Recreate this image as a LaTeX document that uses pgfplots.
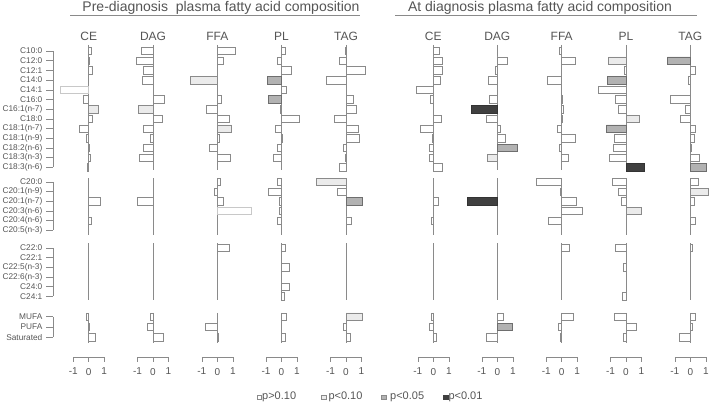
\documentclass[border=0pt]{standalone}
\usepackage{pgfplots}
\pgfplotsset{compat=1.18}
\usepackage{fontspec}
\setmainfont{Liberation Sans}

\definecolor{txt}{HTML}{555555}
\definecolor{edge}{HTML}{8A8A8A}
\definecolor{lite}{HTML}{EBEBEB}
\definecolor{midg}{HTML}{B2B2B2}
\definecolor{dark}{HTML}{404040}
\definecolor{over}{HTML}{C8C8C8}

\pgfplotsset{
  panel/.style={
    x=15.5pt, y=9.7pt,
    xmin=-1, xmax=1, ymin=-31.55, ymax=0.7,
    anchor=south west, clip=false,
    axis y line=none, axis x line*=bottom,
    xtick={-1,0,1}, xticklabels={-1,0,1},
    tick align=outside, major tick length=4.5pt,
    axis line style={edge, line width=0.6pt},
    xtick style={edge, line width=0.6pt},
    xticklabel style={font=\fontsize{10}{12}\selectfont, text=txt, yshift=-3pt},
    every axis plot/.append style={xbar, bar shift=0pt, bar width=7.5pt, line width=0.6pt},
  },
  ns/.style={fill=white, draw=edge},
  p10/.style={fill=lite, draw=edge},
  p05/.style={fill=midg, draw=edge!80!black},
  p01/.style={fill=dark, draw=dark!80!black},
  ovr/.style={fill=white, draw=over},
}

% zero line of a panel, one piece per group of rows
\newcommand{\zl}{\draw[edge, line width=0.6pt]
  (axis cs:0,0.62)--(axis cs:0,-12.27)
  (axis cs:0,-13.1)--(axis cs:0,-19.0)
  (axis cs:0,-19.8)--(axis cs:0,-25.7)
  (axis cs:0,-27.0)--(axis cs:0,-30.1);}

\begin{document}
\begin{tikzpicture}
\path[use as bounding box] (0,0) rectangle (711pt,-404pt);

% titles
\begin{scope}[x=1pt, y=1pt, text=txt]
  \node[font=\fontsize{14}{16}\selectfont] at (221,-7.5) {Pre-diagnosis\ \ plasma fatty acid composition};
  \draw[edge, line width=0.7pt] (70,-15.5) -- (360,-15.5);
  \node[font=\fontsize{14}{16}\selectfont] at (540,-7.5) {At diagnosis plasma fatty acid composition};
  \draw[edge, line width=0.7pt] (395,-15.5) -- (697,-15.5);
  \foreach \x/\t in {88.7/CE,153/DAG,217.3/FFA,281.5/PL,346/TAG,433.3/CE,497.3/DAG,561.7/FFA,626/PL,690.3/TAG}
    \node[font=\fontsize{12}{14}\selectfont] at (\x,-36.5) {\t};
  % row labels and brackets
  \foreach \r/\t in {0/C10:0,1/C12:0,2/C12:1,3/C14:0,4/C14:1,5/C16:0,6/C16:1(n-7),7/C18:0,
      8/C18:1(n-7),9/C18:1(n-9),10/C18:2(n-6),11/C18:3(n-3),12/C18:3(n-6),
      13.5/C20:0,14.5/C20:1(n-9),15.5/C20:1(n-7),16.5/C20:3(n-6),17.5/C20:4(n-6),18.5/C20:5(n-3),
      20.3/C22:0,21.3/C22:1,22.3/C22:5(n-3),23.3/C22:6(n-3),24.3/C24:0,25.3/C24:1,
      27.4/MUFA,28.45/PUFA,29.5/Saturated}{
    \node[anchor=east, inner sep=0pt, font=\fontsize{8.3}{9}\selectfont] at (42.5,{-51-9.7*\r}) {\t};
    \draw[edge, line width=0.6pt] (46,{-51-9.7*\r}) -- (53,{-51-9.7*\r});
  }
  \foreach \a/\b in {0/12,13.5/18.5,20.3/25.3,27.4/29.5}
    \draw[edge, line width=0.6pt] (53,{-51-9.7*\a}) -- (53,{-51-9.7*\b});
  % legend
  \begin{scope}[font=\fontsize{11}{13}\selectfont]
    \draw[edge, fill=white, line width=0.5pt] (256.8,-399.5) rectangle +(4.5,4.5);
    \node[anchor=west, inner sep=0pt] at (262,-397) {p>0.10};
    \draw[edge, fill=lite, line width=0.5pt] (321.3,-399.5) rectangle +(4.5,4.5);
    \node[anchor=west, inner sep=0pt] at (328.3,-397) {p<0.10};
    \draw[edge, fill=midg, line width=0.5pt] (381.3,-399.5) rectangle +(4.5,4.5);
    \node[anchor=west, inner sep=0pt] at (390,-397) {p<0.05};
    \draw[dark, fill=dark, line width=0.5pt] (443.3,-399.5) rectangle +(4.5,4.5);
    \node[anchor=west, inner sep=0pt] at (448.3,-397) {p<0.01};
  \end{scope}
\end{scope}

% ---------- pre-diagnosis ----------
\begin{axis}[panel, at={(73.2pt,-357pt)}]
\zl
\addplot[ns] coordinates {(0.17,0) (0.02,-1) (0.25,-2) (-0.32,-5) (0.2,-7) (-0.58,-8) (-0.15,-9) (0.03,-10) (0.1,-11) (-0.1,-12) (0.73,-15.5) (0.15,-17.5) (-0.13,-27.4) (0.06,-28.45) (0.41,-29.5)};
\addplot[p10] coordinates {(0.65,-6)};
\addplot[ovr] coordinates {(-1.83,-4)};
\end{axis}

\begin{axis}[panel, at={(137.5pt,-357pt)}]
\zl
\addplot[ns] coordinates {(-0.75,0) (-1.1,-1) (-0.65,-2) (-0.7,-3) (0.7,-5) (0.58,-7) (-0.65,-8) (-0.2,-9) (-0.65,-10) (-0.9,-11) (-1.03,-15.5) (-0.15,-27.4) (-0.39,-28.45) (0.69,-29.5)};
\addplot[p10] coordinates {(-0.97,-6)};
\end{axis}

\begin{axis}[panel, at={(201.8pt,-357pt)}]
\zl
\addplot[ns] coordinates {(1.18,0) (0.39,-1) (0.26,-5) (-0.71,-6) (0.77,-7) (0.13,-9) (-0.52,-10) (0.86,-11) (0.17,-13.5) (-0.19,-14.5) (0.37,-15.5) (0.77,-20.3) (-0.75,-28.45) (0.09,-29.5)};
\addplot[p10] coordinates {(-1.72,-3) (0.92,-8)};
\addplot[ovr] coordinates {(2.2,-16.5)};
\end{axis}

\begin{axis}[panel, at={(266pt,-357pt)}]
\zl
\addplot[ns] coordinates {(0.26,0) (-0.24,-1) (0.65,-2) (0.32,-4) (-0.06,-6) (1.16,-7) (-0.43,-8) (0.06,-9) (-0.3,-10) (-0.5,-11) (-0.24,-13.5) (-0.82,-14.5) (-0.15,-15.5) (-0.17,-16.5) (-0.28,-17.5) (0.26,-20.3) (0.49,-22.3) (0.49,-24.3) (0.17,-25.3) (0.32,-27.4) (0.24,-29.5)};
\addplot[p05] coordinates {(-0.9,-3) (-0.82,-5)};
\end{axis}

\begin{axis}[panel, at={(330.5pt,-357pt)}]
\zl
\addplot[ns] coordinates {(-0.05,0) (-0.41,-1) (1.27,-2) (-1.27,-3) (0.47,-5) (0.69,-6) (-0.75,-7) (0.8,-8) (0.88,-9) (-0.17,-10) (-0.03,-11) (-0.43,-12) (-0.54,-14.5) (0.32,-17.5) (-0.17,-28.45) (0.3,-29.5)};
\addplot[p10] coordinates {(-1.9,-13.5) (1.05,-27.4)};
\addplot[p05] coordinates {(1.07,-15.5)};
\end{axis}

% ---------- at diagnosis ----------
\begin{axis}[panel, at={(417.8pt,-357pt)}]
\zl
\addplot[ns] coordinates {(0.41,0) (0.6,-1) (0.6,-2) (0.43,-3) (-1.1,-4) (-0.19,-5) (0.49,-7) (-0.84,-8) (-0.09,-9) (-0.26,-10) (-0.26,-11) (0.58,-12) (0.34,-15.5) (-0.11,-17.5) (-0.13,-27.4) (-0.24,-28.45) (0.21,-29.5)};
\end{axis}

\begin{axis}[panel, at={(481.8pt,-357pt)}]
\zl
\addplot[ns] coordinates {(0.67,-1) (-0.13,-2) (-0.58,-3) (-0.52,-5) (-0.71,-7) (0.17,-8) (0.54,-9) (0.39,-27.4) (-0.69,-29.5)};
\addplot[p10] coordinates {(-0.65,-11)};
\addplot[p05] coordinates {(1.31,-10) (0.99,-28.45)};
\addplot[p01] coordinates {(-1.68,-6) (-1.93,-15.5)};
\end{axis}

\begin{axis}[panel, at={(546.2pt,-357pt)}]
\zl
\addplot[ns] coordinates {(-0.17,0) (0.88,-1) (-0.9,-3) (0.04,-5) (0.13,-6) (0.06,-7) (-0.26,-8) (0.86,-9) (-0.15,-10) (0.45,-11) (-1.61,-13.5) (-0.11,-14.5) (0.97,-15.5) (1.33,-16.5) (-0.84,-17.5) (0.47,-20.3) (0.75,-27.4) (-0.24,-28.45) (-0.09,-29.5)};
\end{axis}

\begin{axis}[panel, at={(610.5pt,-357pt)}]
\zl
\addplot[ns] coordinates {(-0.09,-2) (-1.78,-4) (-0.67,-5) (-0.47,-6) (-0.73,-9) (-0.82,-10) (-1.08,-11) (-0.88,-13.5) (-0.52,-14.5) (-0.28,-15.5) (-0.71,-20.3) (-0.19,-22.3) (-0.21,-25.3) (-0.77,-27.4) (0.69,-28.45) (-0.15,-29.5)};
\addplot[p10] coordinates {(-1.12,-1) (0.88,-7) (0.99,-16.5)};
\addplot[p05] coordinates {(-1.18,-3) (-1.27,-8)};
\addplot[p01] coordinates {(1.2,-12)};
\end{axis}

\begin{axis}[panel, at={(674.8pt,-357pt)}]
\zl
\addplot[ns] coordinates {(0.34,-2) (-0.1,-3) (-1.29,-5) (-0.3,-6) (-0.67,-7) (0.32,-8) (0.24,-9) (0.09,-10) (0.58,-11) (0.52,-13.5) (0.24,-15.5) (0.32,-17.5) (0.15,-20.3) (0.34,-27.4) (0.15,-28.45) (-0.71,-29.5)};
\addplot[p10] coordinates {(1.18,-14.5)};
\addplot[p05] coordinates {(-1.48,-1) (1.05,-12)};
\end{axis}
\end{tikzpicture}
\end{document}
